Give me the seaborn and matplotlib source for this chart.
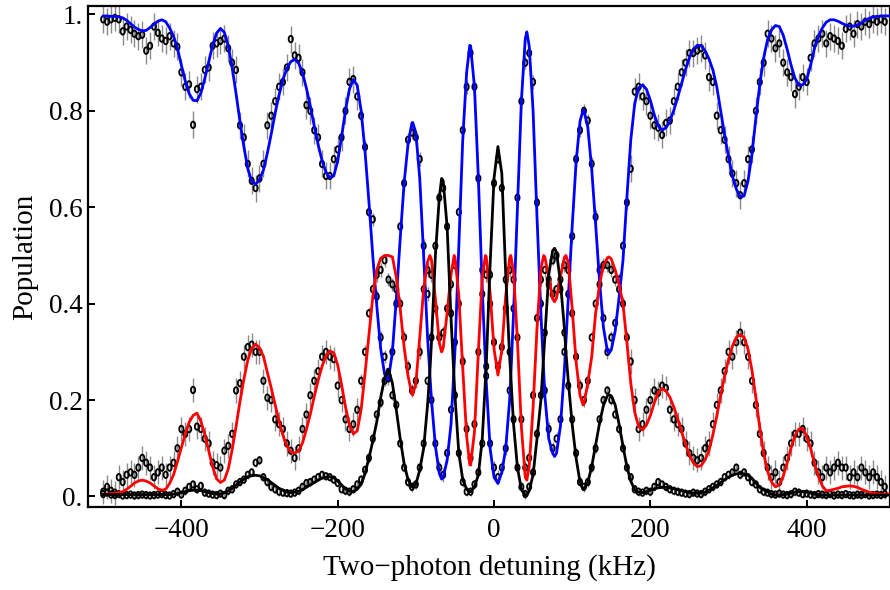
import numpy as np
import pandas as pd
import matplotlib
matplotlib.use("Agg")
import matplotlib.pyplot as plt
import seaborn as sns
from matplotlib.path import Path

# ---------------- data ----------------
# measured points: scan positions every 5 kHz from -500 to 500
scan_x = np.arange(-500, 501, 5)

blue_pts = [
    0.990, 0.985, 0.990, 0.993, 0.990, 0.965, 0.975, 0.968, 0.960, 0.955,
    0.958, 0.925, 0.935, 0.975, 0.962, 0.950, 0.945, 0.955, 0.940, 0.933,
    0.880, 0.850, 0.855, 0.771, 0.845, 0.850, 0.885, 0.890, 0.935, 0.940,
    0.945, 0.950, 0.930, 0.900, 0.885, 0.770, 0.745, 0.690, 0.655, 0.640,
    0.660, 0.690, 0.770, 0.790, 0.820, 0.850, 0.860, 0.890, 0.949, 0.915,
    0.910, 0.880, 0.812, 0.800, 0.760, 0.745, 0.690, 0.665, 0.665, 0.700,
    0.720, 0.745, 0.800, 0.860, 0.866, 0.830, 0.790, 0.725, 0.590, 0.575,
    0.415, 0.330, 0.290, 0.245, 0.300, 0.400, 0.560, 0.650, 0.740, 0.755,
    0.745, 0.700, 0.520, 0.420, 0.200, 0.110, 0.060, 0.045, 0.090, 0.180,
    0.320, 0.590, 0.760, 0.850, 0.920, 0.850, 0.660, 0.470, 0.270, 0.110,
    0.060, 0.040, 0.060, 0.100, 0.220, 0.390, 0.620, 0.820, 0.900, 0.920,
    0.860, 0.610, 0.400, 0.220, 0.140, 0.100, 0.120, 0.160, 0.300, 0.420,
    0.540, 0.700, 0.760, 0.800, 0.780, 0.690, 0.580, 0.470, 0.370, 0.300,
    0.330, 0.360, 0.450, 0.520, 0.610, 0.680, 0.840, 0.850, 0.830, 0.820,
    0.790, 0.770, 0.765, 0.750, 0.775, 0.780, 0.820, 0.850, 0.880, 0.900,
    0.920, 0.920, 0.925, 0.930, 0.915, 0.870, 0.860, 0.790, 0.760, 0.740,
    0.700, 0.670, 0.650, 0.625, 0.650, 0.700, 0.720, 0.800, 0.860, 0.900,
    0.960, 0.950, 0.930, 0.940, 0.900, 0.880, 0.870, 0.835, 0.850, 0.870,
    0.860, 0.910, 0.940, 0.950, 0.960, 0.940, 0.955, 0.950, 0.945, 0.935,
    0.970, 0.975, 0.960, 0.980, 0.975, 0.985, 0.980, 0.990, 0.985, 0.990,
    0.985,
]

red_pts = [
    0.010, 0.020, 0.012, 0.008, 0.040, 0.030, 0.045, 0.050, 0.045, 0.060,
    0.080, 0.070, 0.060, 0.040, 0.050, 0.060, 0.045, 0.060, 0.070, 0.100,
    0.140, 0.130, 0.140, 0.221, 0.145, 0.140, 0.120, 0.110, 0.070, 0.065,
    0.060, 0.095, 0.105, 0.130, 0.220, 0.235, 0.290, 0.310, 0.315, 0.300,
    0.300, 0.240, 0.205, 0.200, 0.160, 0.150, 0.140, 0.110, 0.095, 0.080,
    0.100, 0.140, 0.170, 0.210, 0.240, 0.260, 0.290, 0.300, 0.290, 0.285,
    0.230, 0.200, 0.160, 0.140, 0.150, 0.180, 0.240, 0.300, 0.380, 0.430,
    0.460, 0.470, 0.490, 0.450, 0.440, 0.430, 0.400, 0.330, 0.270, 0.220,
    0.240, 0.300, 0.430, 0.470, 0.460, 0.390, 0.330, 0.340, 0.390, 0.440,
    0.480, 0.400, 0.280, 0.140, 0.080, 0.150, 0.300, 0.420, 0.460, 0.400,
    0.320, 0.270, 0.310, 0.390, 0.470, 0.450, 0.330, 0.160, 0.060, 0.080,
    0.210, 0.370, 0.450, 0.470, 0.450, 0.420, 0.430, 0.450, 0.480, 0.470,
    0.380, 0.290, 0.230, 0.200, 0.240, 0.330, 0.400, 0.440, 0.480, 0.480,
    0.470, 0.450, 0.430, 0.400, 0.330, 0.280, 0.200, 0.140, 0.150, 0.180,
    0.200, 0.220, 0.215, 0.230, 0.225, 0.180, 0.160, 0.150, 0.140, 0.110,
    0.090, 0.080, 0.075, 0.080, 0.100, 0.110, 0.150, 0.190, 0.220, 0.260,
    0.300, 0.290, 0.320, 0.340, 0.320, 0.290, 0.240, 0.190, 0.130, 0.090,
    0.060, 0.040, 0.050, 0.030, 0.060, 0.080, 0.110, 0.130, 0.130, 0.140,
    0.120, 0.110, 0.070, 0.050, 0.040, 0.060, 0.050, 0.060, 0.070, 0.060,
    0.060, 0.040, 0.050, 0.040, 0.060, 0.050, 0.040, 0.050, 0.040, 0.030,
    0.020,
]

black_pts = [
    0.005, 0.008, 0.004, 0.003, 0.005, 0.002, 0.003, 0.004, 0.002, 0.003,
    0.004, 0.003, 0.002, 0.003, 0.004, 0.005, 0.003, 0.002, 0.005, 0.010,
    0.004, 0.012, 0.020, 0.025, 0.015, 0.022, 0.008, 0.006, 0.004, 0.003,
    0.006, 0.003, 0.012, 0.015, 0.025, 0.030, 0.035, 0.045, 0.050, 0.070,
    0.075, 0.040, 0.030, 0.020, 0.015, 0.010, 0.008, 0.007, 0.006, 0.008,
    0.012, 0.020, 0.028, 0.030, 0.035, 0.040, 0.045, 0.042, 0.040, 0.035,
    0.028, 0.015, 0.012, 0.010, 0.015, 0.025, 0.035, 0.055, 0.080, 0.120,
    0.170, 0.195, 0.240, 0.250, 0.210, 0.190, 0.110, 0.060, 0.030, 0.020,
    0.025, 0.060, 0.110, 0.240, 0.330, 0.520, 0.620, 0.640, 0.560, 0.380,
    0.210, 0.090, 0.030, 0.010, 0.010, 0.025, 0.050, 0.110, 0.250, 0.460,
    0.650, 0.700, 0.640, 0.450, 0.300, 0.160, 0.060, 0.020, 0.005, 0.020,
    0.050, 0.130, 0.210, 0.340, 0.440, 0.490, 0.500, 0.430, 0.340, 0.230,
    0.160, 0.090, 0.030, 0.020, 0.030, 0.060, 0.100, 0.160, 0.200, 0.220,
    0.200, 0.170, 0.140, 0.100, 0.060, 0.040, 0.015, 0.010, 0.008, 0.012,
    0.010, 0.020, 0.030, 0.025, 0.020, 0.015, 0.012, 0.010, 0.008, 0.006,
    0.005, 0.008, 0.006, 0.005, 0.010, 0.015, 0.020, 0.025, 0.030, 0.040,
    0.045, 0.050, 0.060, 0.045, 0.050, 0.040, 0.030, 0.025, 0.015, 0.010,
    0.008, 0.005, 0.004, 0.006, 0.004, 0.003, 0.005, 0.010, 0.008, 0.005,
    0.006, 0.004, 0.003, 0.005, 0.004, 0.003, 0.005, 0.002, 0.004, 0.003,
    0.005, 0.003, 0.002, 0.004, 0.003, 0.005, 0.002, 0.003, 0.004, 0.003,
    0.005,
]

# error-bar half lengths (outer wings / central region)
err_outer = {"blue": 0.028, "red": 0.025, "black": 0.008}
err_inner = {"blue": 0.014, "red": 0.014, "black": 0.010}
inner_halfwidth = 170

# theory curves: sampled every 5 kHz from -500 to 505, plus extra samples at extrema
curve_x = np.arange(-500, 506, 5)

blue_curve = [
    0.997, 0.997, 0.996, 0.996, 0.995, 0.993, 0.988, 0.981, 0.974, 0.969,
    0.966, 0.967, 0.973, 0.980, 0.986, 0.989, 0.985, 0.972, 0.955, 0.930,
    0.895, 0.862, 0.836, 0.822, 0.821, 0.837, 0.867, 0.902, 0.936, 0.961,
    0.971, 0.963, 0.935, 0.890, 0.836, 0.778, 0.726, 0.680, 0.654, 0.648,
    0.657, 0.677, 0.712, 0.752, 0.795, 0.833, 0.865, 0.888, 0.902, 0.907,
    0.899, 0.879, 0.847, 0.810, 0.769, 0.730, 0.697, 0.673, 0.661, 0.665,
    0.696, 0.746, 0.801, 0.845, 0.865, 0.853, 0.801, 0.716, 0.611, 0.498,
    0.396, 0.307, 0.254, 0.243, 0.300, 0.410, 0.535, 0.650, 0.731, 0.775,
    0.755, 0.660, 0.500, 0.330, 0.200, 0.105, 0.048, 0.040, 0.075, 0.150,
    0.300, 0.520, 0.740, 0.880, 0.935, 0.850, 0.660, 0.430, 0.240, 0.100,
    0.040, 0.027, 0.050, 0.100, 0.200, 0.380, 0.600, 0.820, 0.950, 0.935,
    0.800, 0.580, 0.380, 0.210, 0.120, 0.090, 0.090, 0.146, 0.261, 0.407,
    0.560, 0.693, 0.778, 0.802, 0.766, 0.679, 0.565, 0.447, 0.351, 0.302,
    0.304, 0.343, 0.413, 0.490, 0.620, 0.740, 0.815, 0.848, 0.854, 0.845,
    0.822, 0.792, 0.769, 0.760, 0.765, 0.779, 0.801, 0.828, 0.857, 0.886,
    0.910, 0.928, 0.936, 0.935, 0.925, 0.908, 0.885, 0.850, 0.800, 0.750,
    0.705, 0.665, 0.638, 0.621, 0.624, 0.655, 0.710, 0.785, 0.855, 0.910,
    0.948, 0.968, 0.977, 0.975, 0.957, 0.928, 0.895, 0.868, 0.853, 0.854,
    0.865, 0.895, 0.930, 0.955, 0.972, 0.984, 0.989, 0.989, 0.986, 0.982,
    0.978, 0.976, 0.976, 0.978, 0.983, 0.988, 0.992, 0.995, 0.996, 0.997,
    0.997, 0.997,
]

red_curve = [
    0.004, 0.005, 0.006, 0.007, 0.008, 0.010, 0.015, 0.021, 0.028, 0.032,
    0.034, 0.032, 0.028, 0.022, 0.016, 0.013, 0.015, 0.027, 0.045, 0.072,
    0.101, 0.130, 0.154, 0.168, 0.173, 0.156, 0.129, 0.095, 0.062, 0.037,
    0.029, 0.034, 0.057, 0.097, 0.145, 0.197, 0.243, 0.283, 0.307, 0.316,
    0.308, 0.291, 0.258, 0.225, 0.190, 0.156, 0.127, 0.105, 0.092, 0.090,
    0.094, 0.111, 0.139, 0.171, 0.207, 0.241, 0.270, 0.291, 0.302, 0.298,
    0.273, 0.232, 0.186, 0.149, 0.130, 0.136, 0.180, 0.255, 0.335, 0.415,
    0.470, 0.494, 0.500, 0.500, 0.497, 0.455, 0.390, 0.310, 0.250, 0.212,
    0.234, 0.330, 0.430, 0.487, 0.491, 0.410, 0.319, 0.308, 0.381, 0.460,
    0.497, 0.417, 0.266, 0.125, 0.065, 0.134, 0.300, 0.456, 0.498, 0.423,
    0.307, 0.252, 0.304, 0.416, 0.495, 0.466, 0.322, 0.145, 0.040, 0.062,
    0.185, 0.349, 0.472, 0.497, 0.456, 0.410, 0.412, 0.456, 0.496, 0.486,
    0.390, 0.280, 0.210, 0.192, 0.235, 0.290, 0.380, 0.440, 0.480, 0.495,
    0.493, 0.470, 0.440, 0.400, 0.320, 0.235, 0.175, 0.145, 0.138, 0.148,
    0.168, 0.194, 0.215, 0.224, 0.219, 0.206, 0.186, 0.161, 0.134, 0.109,
    0.086, 0.070, 0.062, 0.064, 0.076, 0.095, 0.128, 0.167, 0.210, 0.250,
    0.284, 0.312, 0.330, 0.336, 0.330, 0.305, 0.262, 0.205, 0.142, 0.090,
    0.052, 0.030, 0.020, 0.024, 0.042, 0.070, 0.101, 0.126, 0.140, 0.141,
    0.125, 0.100, 0.068, 0.042, 0.022, 0.012, 0.013, 0.015, 0.017, 0.020,
    0.021, 0.022, 0.021, 0.019, 0.015, 0.012, 0.009, 0.007, 0.006, 0.005,
    0.005, 0.005,
]

black_curve = [
    0.004, 0.004, 0.004, 0.004, 0.004, 0.004, 0.004, 0.004, 0.004, 0.004,
    0.004, 0.004, 0.004, 0.004, 0.004, 0.004, 0.004, 0.004, 0.005, 0.006,
    0.008, 0.010, 0.012, 0.013, 0.013, 0.012, 0.010, 0.008, 0.006, 0.005,
    0.005, 0.008, 0.012, 0.017, 0.024, 0.030, 0.036, 0.041, 0.043, 0.044,
    0.043, 0.039, 0.035, 0.029, 0.023, 0.017, 0.013, 0.009, 0.008, 0.009,
    0.011, 0.014, 0.019, 0.024, 0.029, 0.034, 0.038, 0.040, 0.041, 0.039,
    0.032, 0.024, 0.016, 0.011, 0.010, 0.015, 0.025, 0.048, 0.080, 0.115,
    0.155, 0.205, 0.245, 0.264, 0.235, 0.180, 0.120, 0.068, 0.035, 0.020,
    0.025, 0.055, 0.100, 0.190, 0.320, 0.500, 0.620, 0.655, 0.560, 0.370,
    0.210, 0.090, 0.035, 0.015, 0.010, 0.020, 0.045, 0.120, 0.270, 0.480,
    0.660, 0.726, 0.670, 0.460, 0.290, 0.150, 0.060, 0.015, 0.003, 0.012,
    0.045, 0.120, 0.200, 0.330, 0.460, 0.510, 0.506, 0.445, 0.350, 0.240,
    0.150, 0.080, 0.030, 0.015, 0.029, 0.062, 0.107, 0.152, 0.189, 0.209,
    0.209, 0.190, 0.150, 0.105, 0.062, 0.032, 0.014, 0.009, 0.008, 0.010,
    0.013, 0.016, 0.018, 0.019, 0.019, 0.018, 0.016, 0.014, 0.012, 0.010,
    0.008, 0.007, 0.007, 0.007, 0.009, 0.013, 0.018, 0.023, 0.029, 0.035,
    0.040, 0.044, 0.047, 0.048, 0.047, 0.044, 0.038, 0.028, 0.019, 0.014,
    0.010, 0.005, 0.003, 0.003, 0.004, 0.005, 0.007, 0.009, 0.010, 0.010,
    0.009, 0.007, 0.005, 0.004, 0.003, 0.003, 0.003, 0.003, 0.003, 0.003,
    0.003, 0.003, 0.003, 0.003, 0.003, 0.003, 0.003, 0.003, 0.003, 0.003,
    0.003, 0.003,
]

# extra samples at the sharp central extrema
extra_x = [-136, -104, -82, -67, -51, -31, -11, 21.5, 42, 63.5, 77.5, 92, 114, 147]
blue_extra = [0.242, 0.776, 0.25, 0.036, 0.27, 0.936, 0.28, 0.25, 0.964, 0.26, 0.083, 0.32, 0.802, 0.297]
red_extra = [0.500, 0.211, 0.500, 0.300, 0.500, 0.066, 0.500, 0.500, 0.034, 0.500, 0.404, 0.500, 0.190, 0.497]
black_extra = [0.264, 0.019, 0.26, 0.660, 0.24, 0.010, 0.24, 0.25, 0.002, 0.29, 0.515, 0.30, 0.015, 0.211]

x_ticks = [-400, -200, 0, 200, 400]
x_tick_labels = ["\u2212400", "\u2212200", "0", "200", "400"]
y_ticks = [0.0, 0.2, 0.4, 0.6, 0.8, 1.0]
y_tick_labels = ["0.", "0.2", "0.4", "0.6", "0.8", "1."]

series_colors = {"blue": "#0000ff", "red": "#ff0000", "black": "#000000"}

for name, arr in [("blue_pts", blue_pts), ("red_pts", red_pts), ("black_pts", black_pts)]:
    assert len(arr) == len(scan_x), (name, len(arr))
for name, arr in [("blue_curve", blue_curve), ("red_curve", red_curve), ("black_curve", black_curve)]:
    assert len(arr) == len(curve_x), (name, len(arr))

# ---------------- assemble tables ----------------
pts = pd.DataFrame({
    "x": np.tile(scan_x, 3),
    "y": np.concatenate([blue_pts, red_pts, black_pts]),
    "series": np.repeat(["blue", "red", "black"], len(scan_x)),
})
pts["err"] = [
    (err_inner if abs(x) <= inner_halfwidth else err_outer)[s]
    for x, s in zip(pts["x"], pts["series"])
]

curves = pd.concat([
    pd.DataFrame({"x": np.concatenate([curve_x, extra_x]),
                  "y": np.concatenate([blue_curve, blue_extra]), "series": "blue"}),
    pd.DataFrame({"x": np.concatenate([curve_x, extra_x]),
                  "y": np.concatenate([red_curve, red_extra]), "series": "red"}),
    pd.DataFrame({"x": np.concatenate([curve_x, extra_x]),
                  "y": np.concatenate([black_curve, black_extra]), "series": "black"}),
], ignore_index=True).sort_values(["series", "x"])

# ---------------- plot ----------------
sns.set_style("ticks")
plt.rcParams["font.family"] = ["Liberation Serif", "DejaVu Serif"]
plt.rcParams["text.color"] = "black"
plt.rcParams["axes.labelcolor"] = "black"
plt.rcParams["xtick.color"] = "black"
plt.rcParams["ytick.color"] = "black"

fig = plt.figure(figsize=(8.9, 5.9), dpi=100)
ax = fig.add_axes([88 / 890, 1 - 507 / 590, 802 / 890, 501 / 590])

ax.errorbar(pts["x"], pts["y"], yerr=pts["err"], fmt="none",
            ecolor="#8a8a8a", elinewidth=1.0, capsize=0, zorder=1)

circ = Path.unit_circle()
oval = Path(circ.vertices * np.array([0.65, 1.0]), circ.codes)
sns.scatterplot(data=pts, x="x", y="y", marker=oval, s=22, color="black",
                linewidth=1.3, legend=False, ax=ax, zorder=2)
coll = ax.collections[-1]
coll.set_facecolor("none")
coll.set_edgecolor("black")

sns.lineplot(data=curves, x="x", y="y", hue="series", palette=series_colors,
             hue_order=["blue", "red", "black"], estimator=None, sort=True,
             linewidth=2.0, legend=False, ax=ax, zorder=3)

ax.set_xlim(-519.4, 506.6)
ax.set_ylim(-0.0218, 1.0176)
ax.set_xticks(x_ticks)
ax.set_xticklabels(x_tick_labels)
ax.set_yticks(y_ticks)
ax.set_yticklabels(y_tick_labels)
ax.tick_params(direction="in", length=5, width=1.4, top=False, right=False,
               labelsize=19.5, colors="black", labelcolor="black")
ax.tick_params(axis="x", pad=8)
ax.tick_params(axis="y", pad=4)
for sp in ax.spines.values():
    sp.set_visible(True)
    sp.set_linewidth(1.6)
    sp.set_color("black")

ax.set_xlabel("Two\u2212photon detuning (kHz)", fontsize=21, color="black")
ax.set_ylabel("Population", fontsize=21, color="black")
ax.xaxis.set_label_coords(0.5, -0.093)
ax.yaxis.set_label_coords(-0.062, 0.5)

fig.savefig("out.png", dpi=100)
